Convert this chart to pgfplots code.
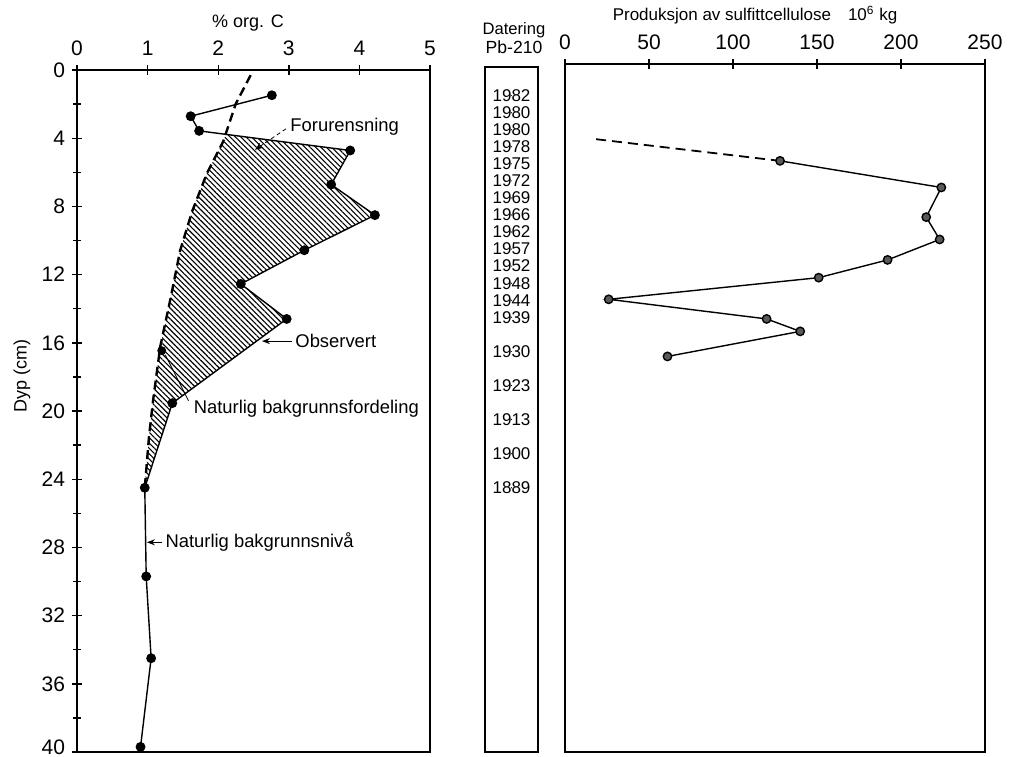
\documentclass[border=0pt]{standalone}
\usepackage{fontspec}
\setmainfont{Liberation Sans}
\usepackage{pgfplots}
\usepackage{pgfplotstable}
\pgfplotsset{compat=1.18}
\usetikzlibrary{patterns.meta,arrows.meta}

% depth (cm) of each Pb-210 date
\pgfplotstableread{
x d yr
0.5 1.5 1982
0.5 2.5 1980
0.5 3.5 1980
0.5 4.5 1978
0.5 5.5 1975
0.5 6.5 1972
0.5 7.5 1969
0.5 8.5 1966
0.5 9.5 1962
0.5 10.5 1957
0.5 11.5 1952
0.5 12.5 1948
0.5 13.5 1944
0.5 14.5 1939
0.5 16.5 1930
0.5 18.5 1923
0.5 20.5 1913
0.5 22.5 1900
0.5 24.5 1889
}\datering

\begin{document}
\begin{tikzpicture}
\useasboundingbox (0,0) rectangle (515.5pt,378pt);
\pgfplotsset{
  every axis/.append style={
    scale only axis,
    axis line style={line width=0.8pt},
    y dir=reverse,
    ticklabel style={font=\fontsize{10.5}{11}\selectfont},
    /pgf/number format/assume math mode=true,
    tick style={black, line width=0.7pt},
    tick align=center,
    major tick length=5pt,
    minor tick length=4pt,
    xtick pos=right, xticklabel pos=right,
    ytick pos=left, yticklabel pos=left,
    clip=false,
  }}

% ---------- left panel: % org. C vs depth ----------
\begin{axis}[at={(38.5pt,2pt)}, anchor=south west,
  width=176.5pt, height=341pt,
  xmin=0, xmax=5, ymin=0, ymax=40,
  xtick={0,1,2,3,4,5},
  ytick={0,4,...,36}, minor ytick={2,6,...,38},
  extra y ticks={40},
  extra y tick style={yticklabel style={yshift=2.5pt}},
  xticklabel style={yshift=1pt},
]
% hatched area between background curve and observed profile
\addplot[draw=none, pattern={Lines[angle=-45, distance=1.9pt, line width=0.55pt]}]
  coordinates {(2.11,3.77) (2.07,4.2) (1.84,6.06) (1.63,8.3) (1.46,10.6)
    (1.32,13.5) (1.18,16.2) (1.08,19.3) (1.02,21.5) (0.96,24.5)
    (1.35,19.54) (2.97,14.6) (2.32,12.55) (3.22,10.57) (4.22,8.51)
    (3.60,6.72) (3.87,4.72)} -- cycle;
% natural background distribution (dashed)
\addplot[black, line width=1.2pt, dash pattern=on 4.5pt off 2.5pt]
  coordinates {(2.46,0.3) (2.25,1.97) (2.07,4.2) (1.84,6.06) (1.63,8.3)
    (1.46,10.6) (1.32,13.5) (1.18,16.2) (1.08,19.3) (1.02,21.5) (0.96,24.5)};
% observed
\addplot[black, line width=0.7pt, mark=*, mark size=2.1pt,
  mark options={solid, fill=black}]
  coordinates {(2.76,1.48) (1.61,2.71) (1.73,3.57) (3.87,4.72) (3.60,6.72)
    (4.22,8.51) (3.22,10.57) (2.32,12.55) (2.97,14.6) (1.35,19.54)
    (0.96,24.5) (0.98,29.7) (1.05,34.5) (0.90,39.7)};
\addplot[only marks, mark=*, mark size=2.0pt, mark options={fill=black}]
  coordinates {(1.20,16.46)};
% annotations
\node[anchor=west, font=\fontsize{9.2}{10}\selectfont, inner sep=1pt] at (axis cs:2.99,3.3) {Forurensning};
\draw[-{Stealth[length=4pt,width=3pt]}, line width=0.4pt, dash pattern=on 2pt off 1.5pt] (axis cs:2.96,3.45) -- (axis cs:2.52,4.68);
\node[anchor=west, font=\fontsize{9.2}{10}\selectfont, inner sep=1pt] at (axis cs:3.06,15.9) {Observert};
\draw[-{Stealth[length=4pt,width=3pt]}, line width=0.5pt] (axis cs:3.04,15.9) -- (axis cs:2.62,15.9);
\node[anchor=west, font=\fontsize{9.2}{10}\selectfont, inner sep=1pt] at (axis cs:1.62,19.85) {Naturlig bakgrunnsfordeling};
\draw[line width=0.4pt] (axis cs:1.58,19.4) -- (axis cs:1.25,16.7);
\node[anchor=west, font=\fontsize{9.2}{10}\selectfont, inner sep=1pt] at (axis cs:1.22,27.7) {Naturlig bakgrunnsnivå};
\draw[-{Stealth[length=4pt,width=3pt]}, line width=0.5pt] (axis cs:1.21,27.7) -- (axis cs:0.99,27.7);
\end{axis}

% ---------- middle column: Pb-210 dating ----------
\begin{axis}[at={(242.5pt,2pt)}, anchor=south west,
  width=26.5pt, height=342.5pt,
  xmin=0, xmax=1, ymin=-0.18, ymax=40,
  xtick=\empty, ytick=\empty,
]
\addplot[only marks, mark=*, mark size=0.01pt, mark options={draw=none, fill=none},
  nodes near coords, point meta=explicit symbolic,
  every node near coord/.append style={anchor=center, font=\fontsize{8.5}{9}\selectfont, inner sep=0pt}]
  table[x=x, y=d, meta=yr] {\datering};
\end{axis}

% ---------- right panel: production of sulfite cellulose ----------
\begin{axis}[at={(282.5pt,2pt)}, anchor=south west,
  width=210pt, height=344pt,
  xmin=0, xmax=250, ymin=-0.35, ymax=40,
  xtick={0,50,100,150,200,250}, ytick=\empty,
  xticklabel style={yshift=1pt},
]
\addplot[black, line width=0.9pt, dash pattern=on 5pt off 3pt]
  coordinates {(18.5,4.06) (128,5.33)};
\addplot[black, line width=0.7pt, mark=*, mark size=2.1pt,
  mark options={solid, fill=black!65, draw=black}]
  coordinates {(128,5.33) (224,6.89) (215,8.63) (223,9.94) (192,11.14)
    (151,12.18) (26,13.45) (120,14.6) (140,15.33) (61,16.8)};
\end{axis}

% titles
\node[font=\fontsize{9}{10}\selectfont] at (124pt,366.5pt) {\% org. C};
\node[rotate=90, font=\fontsize{9}{10}\selectfont] at (11pt,190pt) {Dyp (cm)};
\node[font=\fontsize{8.3}{9}\selectfont] at (257pt,363pt) {Datering};
\node[font=\fontsize{8.8}{9}\selectfont] at (257pt,354.5pt) {Pb-210};
\node[font=\fontsize{8.5}{9}\selectfont] at (377.5pt,370.5pt) {Produksjon av sulfittcellulose\quad 10\textsuperscript{6} kg};
\end{tikzpicture}
\end{document}
